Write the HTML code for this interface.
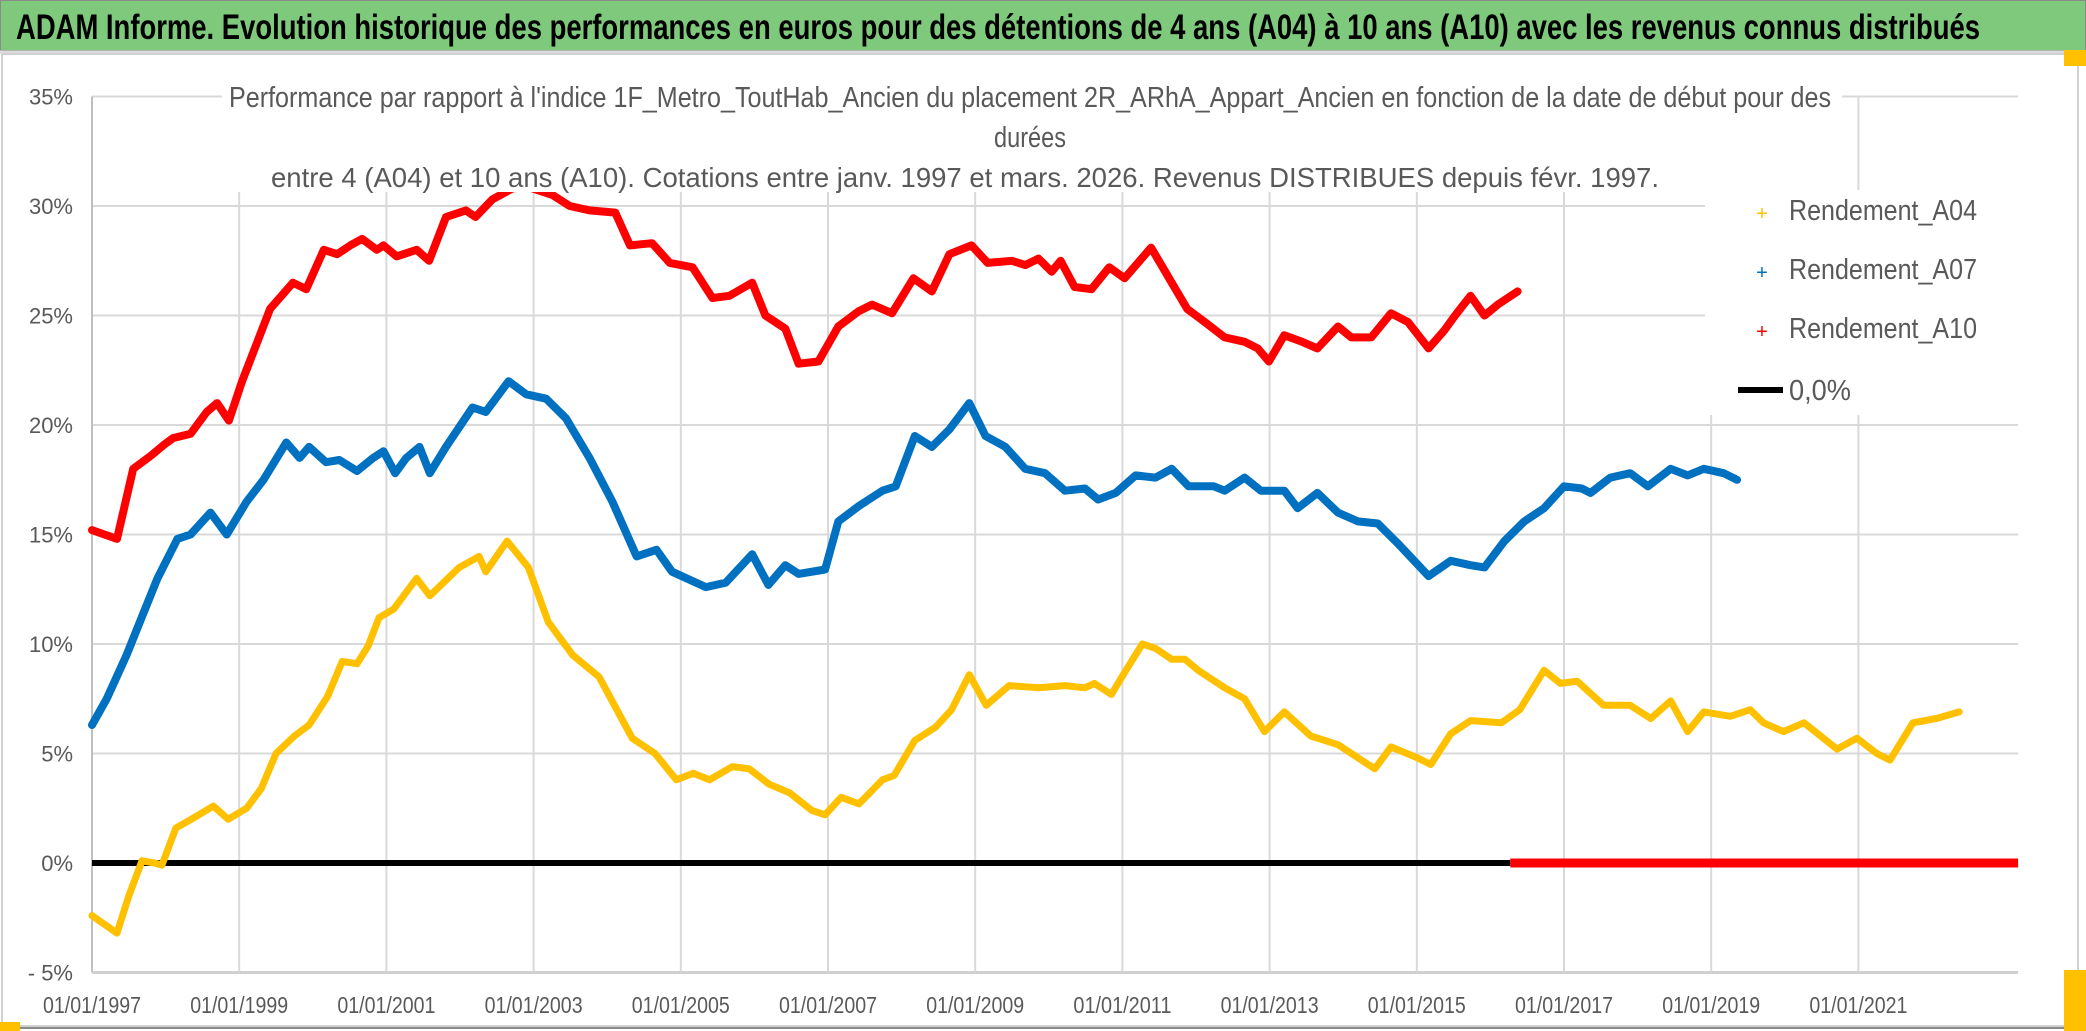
<!DOCTYPE html>
<html><head><meta charset="utf-8"><style>
html,body{margin:0;padding:0;background:#fff;}
svg{display:block;font-family:"Liberation Sans",sans-serif;}
</style></head><body>
<svg id="chart" width="2086" height="1031" viewBox="0 0 2086 1031" xmlns="http://www.w3.org/2000/svg">
<rect x="0" y="0" width="2086" height="1031" fill="#fff"/>
<rect x="0" y="0" width="2086" height="50" fill="#7ec97c"/>
<rect x="0.5" y="0.5" width="2085" height="50" fill="none" stroke="#8a8a8a" stroke-width="1"/>
<line x1="0" y1="52" x2="2086" y2="52" stroke="#dcdcdc" stroke-width="3"/>
<text x="16" y="39" font-size="35" font-weight="bold" fill="#000" textLength="1964" lengthAdjust="spacingAndGlyphs">ADAM Informe. Evolution historique des performances en euros pour des détentions de 4 ans (A04) à 10 ans (A10) avec les revenus connus distribués</text>
<rect x="2" y="54" width="2076" height="972" fill="none" stroke="#d0d0d0" stroke-width="2"/>
<line x1="0" y1="1028" x2="2086" y2="1028" stroke="#8a8a8a" stroke-width="2"/>
<rect x="0" y="1022" width="20" height="9" fill="#ffc000"/>
<rect x="2064" y="970" width="22" height="61" fill="#ffc000"/>
<rect x="2064" y="50" width="22" height="16" fill="#ffc000"/>
<g id="grid"></g>
<g id="axes"></g>
<g id="series"></g>
<rect x="222" y="80" width="1620" height="112" fill="#fff"/>
<g font-size="29" fill="#595959">
<text x="229" y="107" textLength="1602" lengthAdjust="spacingAndGlyphs">Performance par rapport à l'indice 1F_Metro_ToutHab_Ancien  du placement 2R_ARhA_Appart_Ancien en fonction de la date de début pour des</text>
<text x="1030" y="147" text-anchor="middle" textLength="72" lengthAdjust="spacingAndGlyphs">durées</text>
<text x="271" y="187" font-size="28" textLength="1388" lengthAdjust="spacingAndGlyphs">entre 4 (A04) et 10 ans (A10). Cotations entre janv. 1997 et mars. 2026. Revenus DISTRIBUES depuis févr. 1997.</text>
</g>
<rect x="1705" y="190" width="330" height="225" fill="#fff"/>
<g font-size="29" fill="#595959">
<g><text x="1762" y="220" text-anchor="middle" fill="#ffc000" font-size="20">+</text><text x="1789" y="220" textLength="188" lengthAdjust="spacingAndGlyphs">Rendement_A04</text></g>
<g><text x="1762" y="279" text-anchor="middle" fill="#0070c0" font-size="20">+</text><text x="1789" y="279" textLength="188" lengthAdjust="spacingAndGlyphs">Rendement_A07</text></g>
<g><text x="1762" y="338" text-anchor="middle" fill="#ff0000" font-size="20">+</text><text x="1789" y="338" textLength="188" lengthAdjust="spacingAndGlyphs">Rendement_A10</text></g>
<g><line x1="1738" y1="390" x2="1783" y2="390" stroke="#000" stroke-width="6"/><text x="1789" y="400" textLength="62" lengthAdjust="spacingAndGlyphs">0,0%</text></g>
</g>
</svg>
<script>
const yTicks = [-5,0,5,10,15,20,25,30,35];
const yTickLabels = ["- 5%","0%","5%","10%","15%","20%","25%","30%","35%"];
const xTickYears = [1997,1999,2001,2003,2005,2007,2009,2011,2013,2015,2017,2019,2021];
const xTickLabels = ["01/01/1997","01/01/1999","01/01/2001","01/01/2003","01/01/2005","01/01/2007","01/01/2009","01/01/2011","01/01/2013","01/01/2015","01/01/2017","01/01/2019","01/01/2021"];
const a04Dates = [0,0.34,0.5,0.68,0.85,0.95,1.05,1.14,1.35,1.65,1.85,2.1,2.3,2.5,2.75,2.95,3.2,3.4,3.6,3.75,3.9,4.1,4.41,4.59,4.99,5.26,5.35,5.64,5.93,6.2,6.53,6.89,7.34,7.65,7.94,8.17,8.39,8.7,8.93,9.2,9.48,9.78,9.96,10.18,10.42,10.74,10.9,11.18,11.46,11.68,11.92,12.15,12.46,12.86,13.22,13.49,13.62,13.85,14.03,14.27,14.45,14.67,14.85,15.03,15.39,15.66,15.93,16.2,16.56,16.93,17.43,17.65,18.01,18.19,18.46,18.73,19.15,19.4,19.73,19.95,20.18,20.54,20.9,21.18,21.45,21.68,21.9,22.26,22.53,22.71,22.98,23.26,23.71,23.98,24.25,24.43,24.74,25.06,25.37];
const a04Values = [-2.4,-3.2,-1.5,0.1,0.0,-0.1,0.8,1.6,2.0,2.6,2.0,2.5,3.4,5.0,5.8,6.3,7.6,9.2,9.1,9.9,11.2,11.6,13.0,12.2,13.5,14.0,13.3,14.7,13.5,11.0,9.5,8.5,5.7,5.0,3.8,4.1,3.8,4.4,4.3,3.6,3.2,2.4,2.2,3.0,2.7,3.8,4.0,5.6,6.2,7.0,8.6,7.2,8.1,8.0,8.1,8.0,8.2,7.7,8.7,10.0,9.8,9.3,9.3,8.8,8.0,7.5,6.0,6.9,5.8,5.4,4.3,5.3,4.8,4.5,5.9,6.5,6.4,7.0,8.8,8.2,8.3,7.2,7.2,6.6,7.4,6.0,6.9,6.7,7.0,6.4,6.0,6.4,5.2,5.7,5.0,4.7,6.4,6.6,6.9];
const a07Dates = [0,0.2,0.47,0.65,0.89,1.16,1.34,1.61,1.83,2.1,2.33,2.64,2.82,2.95,3.18,3.36,3.6,3.82,3.96,4.12,4.27,4.45,4.59,4.81,5.17,5.35,5.66,5.9,6.17,6.44,6.76,7.07,7.4,7.67,7.88,8.34,8.61,8.97,9.19,9.42,9.6,9.96,10.14,10.42,10.74,10.92,11.18,11.41,11.65,11.92,12.14,12.41,12.68,12.95,13.22,13.49,13.67,13.91,14.18,14.45,14.67,14.9,15.24,15.39,15.66,15.88,16.2,16.38,16.65,16.93,17.2,17.47,17.74,18.16,18.46,18.73,18.92,19.19,19.46,19.73,20.0,20.24,20.36,20.63,20.9,21.14,21.45,21.68,21.9,22.17,22.35];
const a07Values = [6.3,7.5,9.5,11.0,13.0,14.8,15.0,16.0,15.0,16.5,17.5,19.2,18.5,19.0,18.3,18.4,17.9,18.5,18.8,17.8,18.5,19.0,17.8,19.0,20.8,20.6,22.0,21.4,21.2,20.3,18.5,16.5,14.0,14.3,13.3,12.6,12.8,14.1,12.7,13.6,13.2,13.4,15.6,16.3,17.0,17.2,19.5,19.0,19.8,21.0,19.5,19.0,18.0,17.8,17.0,17.1,16.6,16.9,17.7,17.6,18.0,17.2,17.2,17.0,17.6,17.0,17.0,16.2,16.9,16.0,15.6,15.5,14.6,13.1,13.8,13.6,13.5,14.7,15.6,16.2,17.2,17.1,16.9,17.6,17.8,17.2,18.0,17.7,18.0,17.8,17.5];
const a10Dates = [0,0.34,0.56,0.8,0.98,1.1,1.34,1.56,1.7,1.86,2.04,2.42,2.73,2.91,3.15,3.33,3.51,3.67,3.87,3.96,4.14,4.41,4.58,4.81,5.08,5.21,5.44,5.71,5.9,6.26,6.49,6.76,7.11,7.31,7.61,7.85,8.16,8.43,8.66,8.97,9.15,9.42,9.6,9.87,10.14,10.42,10.6,10.87,11.16,11.41,11.65,11.95,12.17,12.5,12.68,12.86,13.04,13.16,13.35,13.58,13.82,14.03,14.21,14.39,14.67,14.88,15.12,15.39,15.66,15.84,15.99,16.2,16.44,16.65,16.93,17.11,17.38,17.65,17.88,18.16,18.37,18.52,18.73,18.92,19.1,19.37];
const a10Values = [15.2,14.8,18.0,18.6,19.1,19.4,19.6,20.6,21.0,20.2,22.0,25.3,26.5,26.2,28.0,27.8,28.2,28.5,28.0,28.2,27.7,28.0,27.5,29.5,29.8,29.5,30.3,30.8,30.9,30.5,30.0,29.8,29.7,28.2,28.3,27.4,27.2,25.8,25.9,26.5,25.0,24.4,22.8,22.9,24.5,25.2,25.5,25.1,26.7,26.1,27.8,28.2,27.4,27.5,27.3,27.6,27.0,27.5,26.3,26.2,27.2,26.7,27.4,28.1,26.5,25.3,24.7,24.0,23.8,23.5,22.9,24.1,23.8,23.5,24.5,24.0,24.0,25.1,24.7,23.5,24.3,25.0,25.9,25.0,25.5,26.1];
const zeroBlackRange = [0, 19.27];
const zeroRedRange = [19.27, 26.17];
const baseYear = 1997;
const xMaxOffset = 26.17;

const NS = "http://www.w3.org/2000/svg";
const X0 = 92, PX_PER_YEAR = 73.6, Y0 = 863, PX_PER_PCT = 21.9;
function xScale(offset){ return X0 + offset * PX_PER_YEAR; }
function xYear(year){ return xScale(year - baseYear); }
function yScale(v){ return Y0 - v * PX_PER_PCT; }
function mk(tag, attrs, parent){ const e = document.createElementNS(NS, tag); for (const k in attrs) e.setAttribute(k, attrs[k]); parent.appendChild(e); return e; }

const grid = document.getElementById('grid');
const axes = document.getElementById('axes');
const series = document.getElementById('series');
const xEnd = xScale(xMaxOffset);

yTicks.forEach((v, i) => {
  if (v !== -5) {
    const l = mk('line', {x1: X0, x2: xEnd, y1: yScale(v), y2: yScale(v), stroke: '#d9d9d9', 'stroke-width': 2}, grid);
    
    
  }
  const t = mk('text', {x: 73, y: yScale(v) + 8, 'text-anchor': 'end', 'font-size': 22, fill: '#595959'}, axes);
  
  
  t.textContent = yTickLabels[i];
});
xTickYears.forEach((yr, i) => {
  if (i > 0) {
    const l = mk('line', {x1: xYear(yr), x2: xYear(yr), y1: yScale(35), y2: yScale(-5), stroke: '#d9d9d9', 'stroke-width': 2}, grid);
    
    
  }
  const t = mk('text', {x: xYear(yr), y: 1013, 'text-anchor': 'middle', 'font-size': 23, fill: '#595959', textLength: 98, lengthAdjust: 'spacingAndGlyphs'}, axes);
  
  
  t.textContent = xTickLabels[i];
});
const ya = mk('line', {x1: X0, x2: X0, y1: yScale(35), y2: yScale(-5), stroke: '#bfbfbf', 'stroke-width': 2}, axes);


const xa = mk('line', {x1: X0, x2: xEnd, y1: yScale(-5), y2: yScale(-5), stroke: '#d0d0d0', 'stroke-width': 3}, axes);



const zb = mk('line', {x1: xScale(zeroBlackRange[0]), x2: xScale(zeroBlackRange[1]), y1: yScale(0), y2: yScale(0), stroke: '#000', 'stroke-width': 6}, series);


const zr = mk('line', {x1: xScale(zeroRedRange[0]), x2: xScale(zeroRedRange[1]), y1: yScale(0), y2: yScale(0), stroke: '#ff0000', 'stroke-width': 9}, series);



function drawSeries(dates, values, color, width, name){
  const pts = dates.map((d, i) => xScale(d).toFixed(1) + ',' + yScale(values[i]).toFixed(1)).join(' ');
  const p = mk('polyline', {points: pts, fill: 'none', stroke: color, 'stroke-width': width, 'stroke-linejoin': 'round', 'stroke-linecap': 'round'}, series);
  
  
}
drawSeries(a04Dates, a04Values, '#ffc000', 7, 'series-rendement-a04');
drawSeries(a07Dates, a07Values, '#0070c0', 8, 'series-rendement-a07');
drawSeries(a10Dates, a10Values, '#ff0000', 8, 'series-rendement-a10');
</script>
</body></html>
